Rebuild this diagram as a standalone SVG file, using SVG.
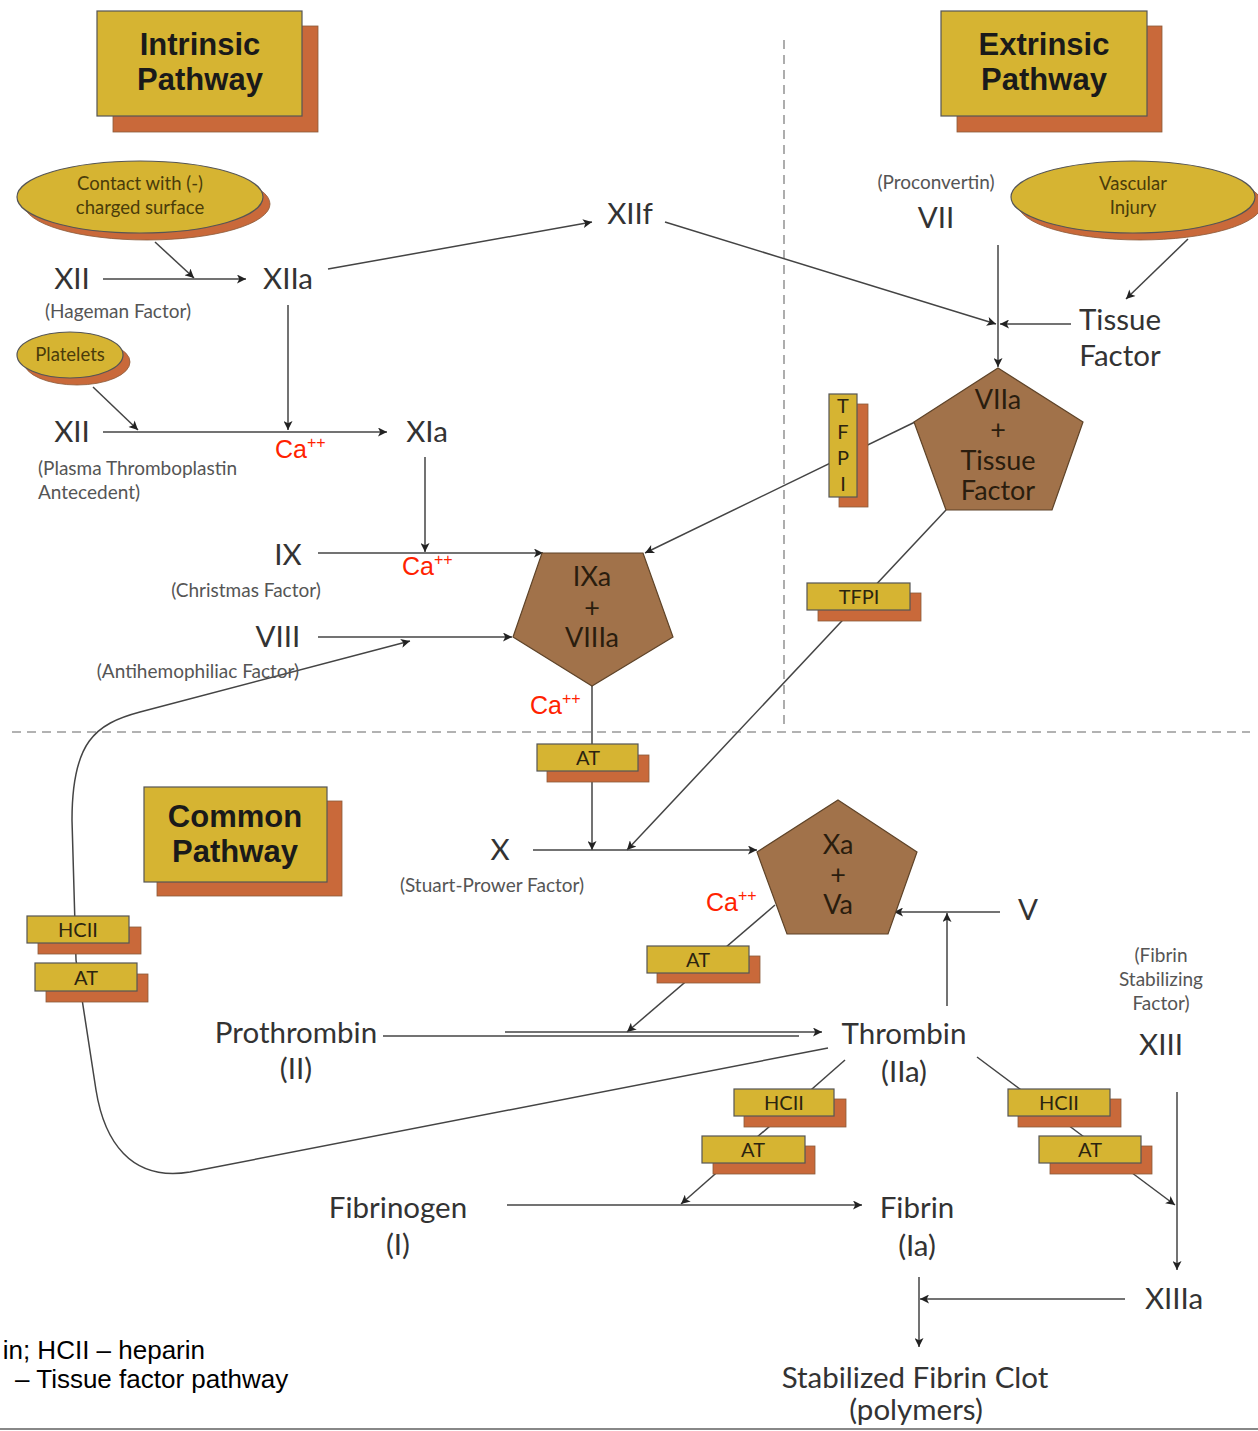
<svg xmlns="http://www.w3.org/2000/svg" width="1258" height="1431" viewBox="0 0 1258 1431">
<defs>
<style>
.lbl{font-family:Lato,"Open Sans",sans-serif;font-size:29.5px;fill:#333;text-anchor:middle}
.sub{font-family:Lato,"Open Sans",sans-serif;font-size:19px;fill:#555;text-anchor:middle}
.ttl{font-family:"Liberation Sans",Arial,sans-serif;font-weight:bold;font-size:31px;fill:#1a1a1a;text-anchor:middle}
.ell{font-family:Lato,"Open Sans",sans-serif;font-size:18.5px;fill:#4a3c0a;text-anchor:middle}
.bx{font-family:Lato,"Open Sans",sans-serif;font-size:20px;fill:#2b2410;text-anchor:middle}
.pt{font-family:Lato,"Open Sans",sans-serif;font-size:27px;fill:#2a1d0e;text-anchor:middle}
.ca{font-family:"Liberation Sans",Arial,sans-serif;font-size:25px;fill:#ff2200}
.leg{font-family:"Liberation Sans",Arial,sans-serif;font-size:26px;fill:#000}
.y{fill:#d6b432;stroke:#555;stroke-width:1.2}
.o{fill:#c9693a;stroke:#8a5a3a;stroke-width:0.8}
.pen{fill:#a1724a;stroke:#5e4328;stroke-width:1.2}
.c{fill:none;stroke:#444;stroke-width:1.5}
.dash{fill:none;stroke:#999;stroke-width:1.6;stroke-dasharray:9 6}
</style>
<marker id="arr" viewBox="0 0 10 10" refX="10" refY="5" markerWidth="11" markerHeight="9" markerUnits="userSpaceOnUse" orient="auto">
<path d="M0,0 L10,5 L0,10 L2.5,5 z" fill="#222"/>
</marker>
</defs>
<rect width="1258" height="1431" fill="#fff"/>

<g id="separators">
<line class="dash" x1="12" y1="732" x2="1250" y2="732"/>
<line class="dash" x1="784" y1="40" x2="784" y2="728"/>
</g>

<g id="connectors">
<line class="c" x1="155" y1="242" x2="194" y2="278" marker-end="url(#arr)"/>
<line class="c" x1="103" y1="279" x2="246" y2="279" marker-end="url(#arr)"/>
<line class="c" x1="328" y1="269" x2="592" y2="222" marker-end="url(#arr)"/>
<line class="c" x1="665" y1="222" x2="996" y2="324" marker-end="url(#arr)"/>
<line class="c" x1="288" y1="305" x2="288" y2="430" marker-end="url(#arr)"/>
<line class="c" x1="93" y1="387" x2="138" y2="430" marker-end="url(#arr)"/>
<line class="c" x1="103" y1="432" x2="387" y2="432" marker-end="url(#arr)"/>
<line class="c" x1="425" y1="457" x2="425" y2="552" marker-end="url(#arr)"/>
<line class="c" x1="318" y1="553" x2="543" y2="553" marker-end="url(#arr)"/>
<line class="c" x1="318" y1="637" x2="512" y2="637" marker-end="url(#arr)"/>
<path class="c" d="M828,1048 L190,1172 C130,1182 104,1140 96,1090 L76,960 L72,820 C72,742 95,724 140,712 L410,641" marker-end="url(#arr)"/>
<line class="c" x1="998" y1="245" x2="998" y2="367" marker-end="url(#arr)"/>
<line class="c" x1="1071" y1="324" x2="1000" y2="324" marker-end="url(#arr)"/>
<line class="c" x1="1188" y1="239" x2="1126" y2="299" marker-end="url(#arr)"/>
<line class="c" x1="915" y1="422" x2="645" y2="553" marker-end="url(#arr)"/>
<line class="c" x1="946" y1="510" x2="627" y2="850" marker-end="url(#arr)"/>
<line class="c" x1="592" y1="686" x2="592" y2="850" marker-end="url(#arr)"/>
<line class="c" x1="533" y1="850" x2="757" y2="850" marker-end="url(#arr)"/>
<line class="c" x1="775" y1="905" x2="627" y2="1032" marker-end="url(#arr)"/>
<line class="c" x1="383" y1="1036" x2="799" y2="1036"/>
<line class="c" x1="505" y1="1032" x2="822" y2="1032" marker-end="url(#arr)"/>
<line class="c" x1="947" y1="1006" x2="947" y2="913" marker-end="url(#arr)"/>
<line class="c" x1="1000" y1="912" x2="894" y2="912" marker-end="url(#arr)"/>
<line class="c" x1="845" y1="1060" x2="681" y2="1204" marker-end="url(#arr)"/>
<line class="c" x1="977" y1="1057" x2="1175" y2="1205" marker-end="url(#arr)"/>
<line class="c" x1="507" y1="1205" x2="862" y2="1205" marker-end="url(#arr)"/>
<line class="c" x1="1177" y1="1092" x2="1177" y2="1270" marker-end="url(#arr)"/>
<line class="c" x1="1125" y1="1299" x2="920" y2="1299" marker-end="url(#arr)"/>
<line class="c" x1="919" y1="1277" x2="919" y2="1347" marker-end="url(#arr)"/>
</g>

<g id="intrinsic-title">
<rect class="o" x="113" y="26" width="205" height="106"/>
<rect class="y" x="97" y="11" width="205" height="105"/>
<text class="ttl" x="200" y="55">Intrinsic</text>
<text class="ttl" x="200" y="90">Pathway</text>
</g>
<g id="extrinsic-title">
<rect class="o" x="957" y="26" width="205" height="106"/>
<rect class="y" x="941" y="11" width="206" height="105"/>
<text class="ttl" x="1044" y="55">Extrinsic</text>
<text class="ttl" x="1044" y="90">Pathway</text>
</g>
<g id="common-title">
<rect class="o" x="157" y="801" width="185" height="95"/>
<rect class="y" x="144" y="787" width="183" height="95"/>
<text class="ttl" x="235" y="827">Common</text>
<text class="ttl" x="235" y="862">Pathway</text>
</g>

<g id="contact">
<ellipse class="o" cx="147" cy="204" rx="123" ry="36"/>
<ellipse class="y" cx="140" cy="197" rx="123" ry="36"/>
<text class="ell" x="140" y="190">Contact with (-)</text>
<text class="ell" x="140" y="214">charged surface</text>
</g>
<g id="vascular">
<ellipse class="o" cx="1140" cy="204" rx="122" ry="36"/>
<ellipse class="y" cx="1133" cy="197" rx="122" ry="36"/>
<text class="ell" x="1133" y="190">Vascular</text>
<text class="ell" x="1133" y="214">Injury</text>
</g>
<g id="platelets">
<ellipse class="o" cx="77" cy="362" rx="53" ry="23"/>
<ellipse class="y" cx="70" cy="355" rx="53" ry="23"/>
<text class="ell" x="70" y="361">Platelets</text>
</g>

<g id="xii-1"><text class="lbl" x="72" y="289">XII</text><text class="sub" x="118" y="318">(Hageman Factor)</text></g>
<g id="xiia"><text class="lbl" x="288" y="289">XIIa</text></g>
<g id="xiif"><text class="lbl" x="630" y="224">XIIf</text></g>
<g id="xii-2"><text class="lbl" x="72" y="442">XII</text>
<text class="sub" x="38" y="475" style="text-anchor:start">(Plasma Thromboplastin</text>
<text class="sub" x="38" y="499" style="text-anchor:start">Antecedent)</text></g>
<g id="xia"><text class="lbl" x="427" y="442">XIa</text></g>
<g id="ix"><text class="lbl" x="288" y="565">IX</text><text class="sub" x="246" y="597">(Christmas Factor)</text></g>
<g id="viii"><text class="lbl" x="278" y="647">VIII</text><text class="sub" x="198" y="678">(Antihemophiliac Factor)</text></g>
<g id="vii"><text class="sub" x="936" y="189">(Proconvertin)</text><text class="lbl" x="936" y="228">VII</text></g>
<g id="tissue-factor"><text class="lbl" x="1120" y="330">Tissue</text><text class="lbl" x="1120" y="366">Factor</text></g>
<g id="x"><text class="lbl" x="500" y="860">X</text><text class="sub" x="492" y="892">(Stuart-Prower Factor)</text></g>
<g id="v"><text class="lbl" x="1028" y="920">V</text></g>
<g id="xiii"><text class="sub" x="1161" y="962">(Fibrin</text><text class="sub" x="1161" y="986">Stabilizing</text><text class="sub" x="1161" y="1010">Factor)</text><text class="lbl" x="1161" y="1055">XIII</text></g>
<g id="prothrombin"><text class="lbl" x="296" y="1043">Prothrombin</text><text class="lbl" x="296" y="1079">(II)</text></g>
<g id="thrombin"><text class="lbl" x="904" y="1044">Thrombin</text><text class="lbl" x="904" y="1082">(IIa)</text></g>
<g id="fibrinogen"><text class="lbl" x="398" y="1218">Fibrinogen</text><text class="lbl" x="398" y="1255">(I)</text></g>
<g id="fibrin"><text class="lbl" x="917" y="1218">Fibrin</text><text class="lbl" x="917" y="1256">(Ia)</text></g>
<g id="xiiia"><text class="lbl" x="1174" y="1309">XIIIa</text></g>
<g id="clot"><text class="lbl" x="915" y="1388">Stabilized Fibrin Clot</text><text class="lbl" x="916" y="1420">(polymers)</text></g>

<g id="ixa-viiia">
<polygon class="pen" points="542,553 643,553 673,637 592,686 513,637"/>
<text class="pt" x="592" y="586">IXa</text>
<text class="pt" x="592" y="617">+</text>
<text class="pt" x="592" y="647">VIIIa</text>
</g>
<g id="viia-tf">
<polygon class="pen" points="998,368 1083,422 1052,510 946,510 914,422"/>
<text class="pt" x="998" y="409">VIIa</text>
<text class="pt" x="998" y="439">+</text>
<text class="pt" x="998" y="470">Tissue</text>
<text class="pt" x="998" y="500">Factor</text>
</g>
<g id="xa-va">
<polygon class="pen" points="838,800 917,852 888,934 787,934 757,852"/>
<text class="pt" x="838" y="854">Xa</text>
<text class="pt" x="838" y="884">+</text>
<text class="pt" x="838" y="914">Va</text>
</g>

<g id="ca-1"><text class="ca" x="275" y="458">Ca<tspan font-size="16" dy="-10">++</tspan></text></g>
<g id="ca-2"><text class="ca" x="402" y="575">Ca<tspan font-size="16" dy="-10">++</tspan></text></g>
<g id="ca-3"><text class="ca" x="530" y="714">Ca<tspan font-size="16" dy="-10">++</tspan></text></g>
<g id="ca-4"><text class="ca" x="706" y="911">Ca<tspan font-size="16" dy="-10">++</tspan></text></g>

<g id="tfpi-v">
<rect class="o" x="839" y="404" width="29" height="103"/>
<rect class="y" x="829" y="394" width="28" height="103"/>
<text class="bx" x="843" y="413">T</text>
<text class="bx" x="843" y="439">F</text>
<text class="bx" x="843" y="465">P</text>
<text class="bx" x="843" y="491">I</text>
</g>
<g id="tfpi-h">
<rect class="o" x="818" y="593" width="103" height="28"/>
<rect class="y" x="807" y="583" width="103" height="27"/>
<text class="bx" x="859" y="604">TFPI</text>
</g>
<g id="at-1">
<rect class="o" x="547" y="755" width="102" height="27"/>
<rect class="y" x="537" y="744" width="101" height="27"/>
<text class="bx" x="588" y="765">AT</text>
</g>
<g id="at-2">
<rect class="o" x="657" y="956" width="103" height="27"/>
<rect class="y" x="647" y="946" width="102" height="27"/>
<text class="bx" x="698" y="967">AT</text>
</g>
<g id="hcii-left">
<rect class="o" x="38" y="927" width="103" height="27"/>
<rect class="y" x="27" y="916" width="102" height="27"/>
<text class="bx" x="78" y="937">HCII</text>
</g>
<g id="at-left">
<rect class="o" x="46" y="974" width="102" height="28"/>
<rect class="y" x="35" y="963" width="102" height="28"/>
<text class="bx" x="86" y="985">AT</text>
</g>
<g id="hcii-3">
<rect class="o" x="744" y="1099" width="102" height="28"/>
<rect class="y" x="734" y="1089" width="100" height="27"/>
<text class="bx" x="784" y="1110">HCII</text>
</g>
<g id="at-3">
<rect class="o" x="713" y="1146" width="102" height="28"/>
<rect class="y" x="702" y="1136" width="103" height="27"/>
<text class="bx" x="753" y="1157">AT</text>
</g>
<g id="hcii-4">
<rect class="o" x="1018" y="1099" width="103" height="28"/>
<rect class="y" x="1008" y="1089" width="102" height="27"/>
<text class="bx" x="1059" y="1110">HCII</text>
</g>
<g id="at-4">
<rect class="o" x="1050" y="1146" width="102" height="28"/>
<rect class="y" x="1039" y="1136" width="102" height="27"/>
<text class="bx" x="1090" y="1157">AT</text>
</g>

<g id="legend">
<text class="leg" x="205" y="1359" text-anchor="end">in; HCII – heparin</text>
<text class="leg" x="15" y="1388">– Tissue factor pathway</text>
</g>
<line x1="0" y1="1429" x2="1258" y2="1429" stroke="#888" stroke-width="2"/>
</svg>
